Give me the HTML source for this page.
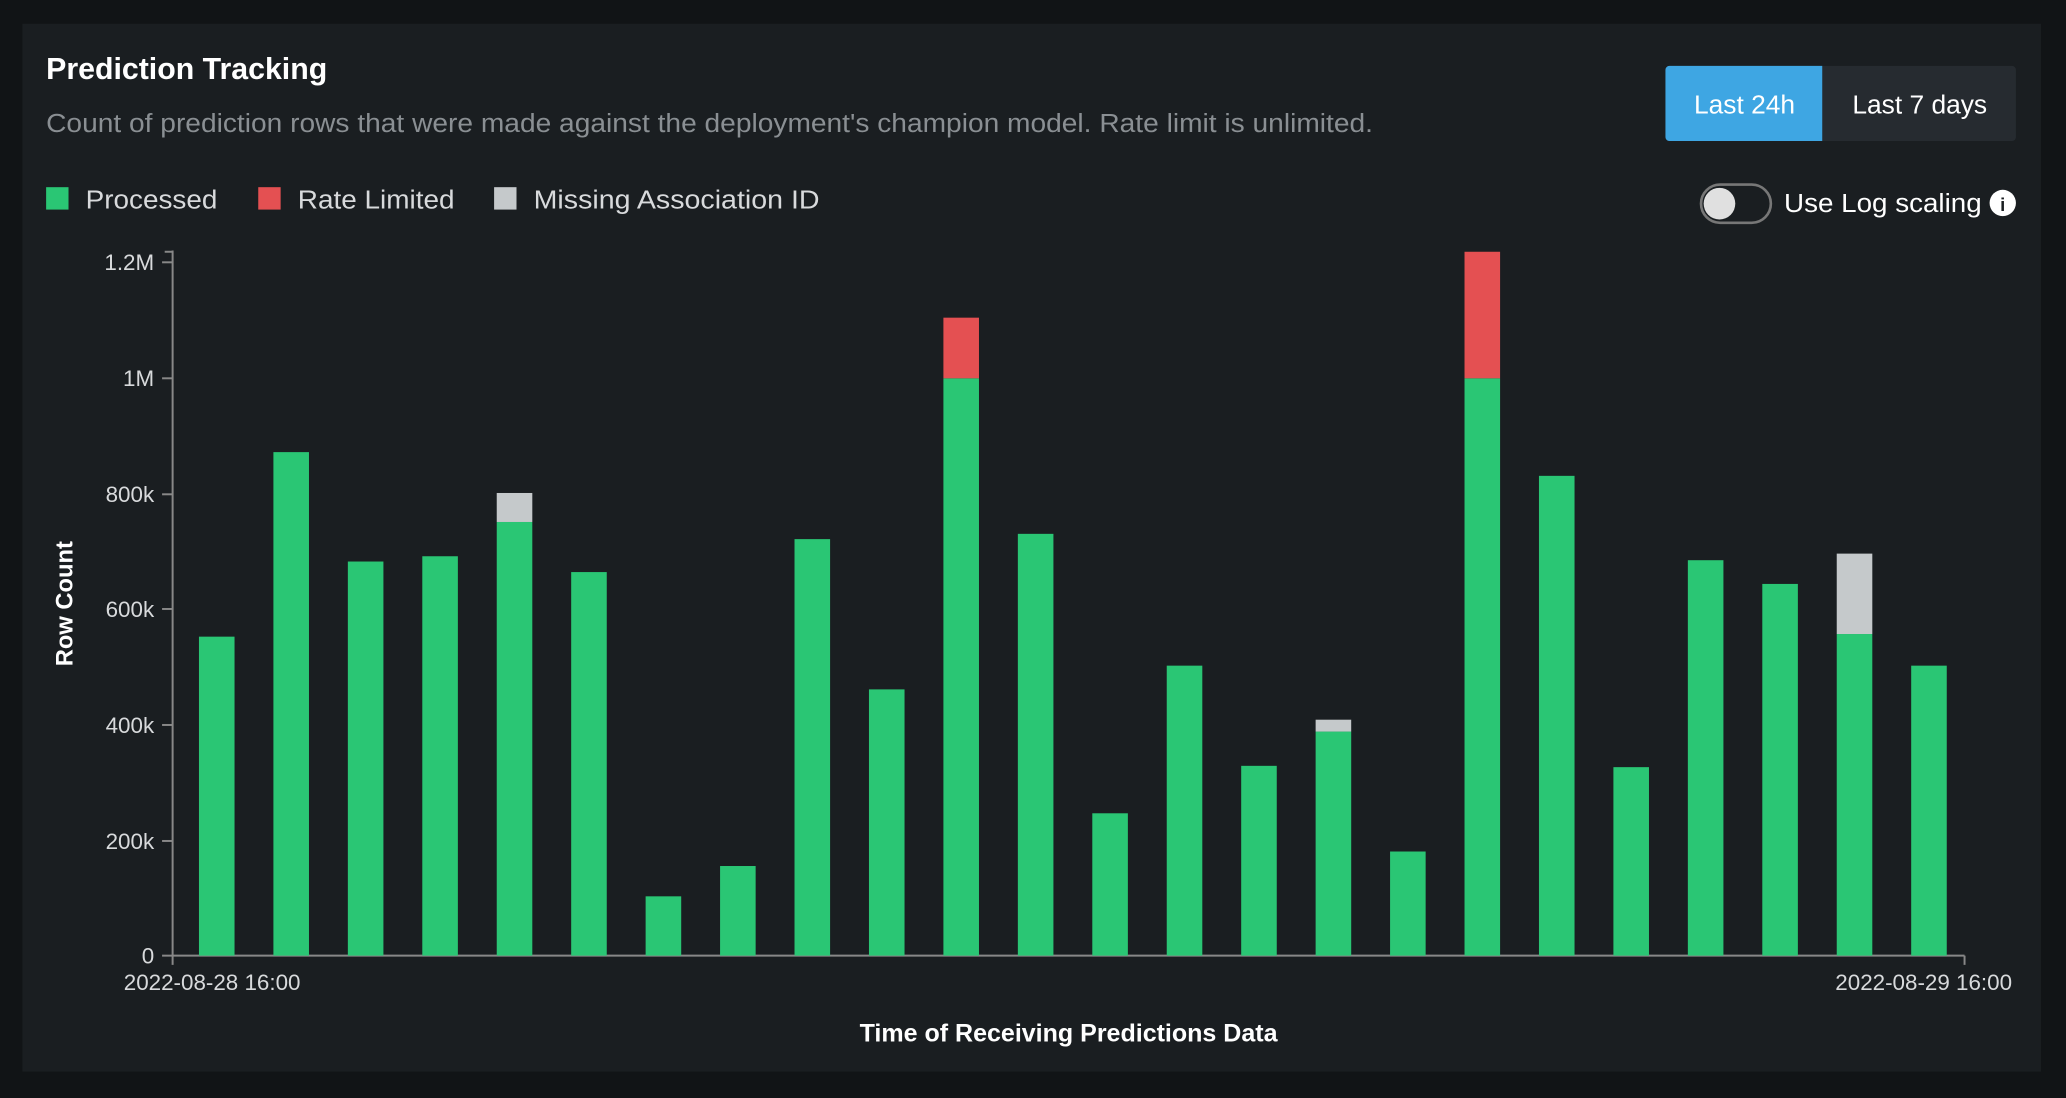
<!DOCTYPE html>
<html><head><meta charset="utf-8"><style>
html,body{margin:0;padding:0;background:#111416;width:2066px;height:1098px;overflow:hidden}
svg{display:block}
text{font-family:"Liberation Sans",sans-serif}
</style></head><body>
<svg width="2066" height="1098" viewBox="0 0 1568 833" preserveAspectRatio="none" xmlns="http://www.w3.org/2000/svg">
<rect x="0" y="0" width="1568" height="833" fill="#111416"/>
<rect x="17" y="18" width="1532" height="795" fill="#1a1e21"/>
<text x="35" y="60" font-size="23" font-weight="bold" fill="#ffffff">Prediction Tracking</text>
<text x="35" y="100" font-size="20" fill="#8a8f93" textLength="1007" lengthAdjust="spacingAndGlyphs">Count of prediction rows that were made against the deployment's champion model. Rate limit is unlimited.</text>
<rect x="1264" y="50" width="266" height="57" rx="3" fill="#262b30"/>
<path d="M1267 50 H1383 V107 H1267 a3 3 0 0 1 -3 -3 V53 a3 3 0 0 1 3 -3z" fill="#3ea6e3"/>
<text x="1324" y="86" font-size="20" fill="#fff" text-anchor="middle">Last 24h</text>
<text x="1457" y="86" font-size="20" fill="#fff" text-anchor="middle">Last 7 days</text>
<rect x="35" y="142" width="17" height="17" fill="#2ac674"/>
<text x="65" y="158" font-size="20" fill="#d8dadc" textLength="100" lengthAdjust="spacingAndGlyphs">Processed</text>
<rect x="196" y="142" width="17" height="17" fill="#e45052"/>
<text x="226" y="158" font-size="20" fill="#d8dadc" textLength="119" lengthAdjust="spacingAndGlyphs">Rate Limited</text>
<rect x="375" y="142" width="17" height="17" fill="#c5c9cb"/>
<text x="405" y="158" font-size="20" fill="#d8dadc" textLength="217" lengthAdjust="spacingAndGlyphs">Missing Association ID</text>
<rect x="1291" y="140" width="53" height="29" rx="14.5" fill="none" stroke="#777" stroke-width="2"/>
<circle cx="1305" cy="154.5" r="12" fill="#e0e0e0"/>
<text x="1354" y="161" font-size="20" fill="#fff" textLength="150" lengthAdjust="spacingAndGlyphs">Use Log scaling</text>
<circle cx="1520" cy="154" r="10" fill="#fff"/>
<text x="1520" y="160" font-size="14" font-weight="bold" fill="#1a1e21" text-anchor="middle">i</text>
<g font-size="17" fill="#d8dadc" text-anchor="end">
<text x="117" y="205">1.2M</text><text x="117" y="293">1M</text><text x="117" y="381">800k</text>
<text x="117" y="468">600k</text><text x="117" y="556">400k</text><text x="117" y="644">200k</text><text x="117" y="731">0</text>
</g>
<g stroke="#888" stroke-width="1.5">
<line x1="131" y1="190" x2="131" y2="732"/>
<line x1="131" y1="725" x2="1491" y2="725"/>
<line x1="1491" y1="725" x2="1491" y2="732"/>
<line x1="125" y1="191" x2="131" y2="191"/>
<line x1="123" y1="199" x2="131" y2="199"/><line x1="123" y1="287" x2="131" y2="287"/><line x1="123" y1="375" x2="131" y2="375"/>
<line x1="123" y1="462" x2="131" y2="462"/><line x1="123" y1="550" x2="131" y2="550"/><line x1="123" y1="638" x2="131" y2="638"/><line x1="123" y1="725" x2="131" y2="725"/>
</g>
<g fill="#2ac674">
<rect x="151" y="483" width="27" height="242"/>
<rect x="207.5" y="343" width="27" height="382"/>
<rect x="264" y="426" width="27" height="299"/>
<rect x="320.5" y="422" width="27" height="303"/>
<rect x="377" y="396" width="27" height="329"/>
<rect x="433.5" y="434" width="27" height="291"/>
<rect x="490" y="680" width="27" height="45"/>
<rect x="546.5" y="657" width="27" height="68"/>
<rect x="603" y="409" width="27" height="316"/>
<rect x="659.5" y="523" width="27" height="202"/>
<rect x="716" y="287" width="27" height="438"/>
<rect x="772.5" y="405" width="27" height="320"/>
<rect x="829" y="617" width="27" height="108"/>
<rect x="885.5" y="505" width="27" height="220"/>
<rect x="942" y="581" width="27" height="144"/>
<rect x="998.5" y="555" width="27" height="170"/>
<rect x="1055" y="646" width="27" height="79"/>
<rect x="1111.5" y="287" width="27" height="438"/>
<rect x="1168" y="361" width="27" height="364"/>
<rect x="1224.5" y="582" width="27" height="143"/>
<rect x="1281" y="425" width="27" height="300"/>
<rect x="1337.5" y="443" width="27" height="282"/>
<rect x="1394" y="481" width="27" height="244"/>
<rect x="1450.5" y="505" width="27" height="220"/>
</g>
<g fill="#c5c9cb">
<rect x="377" y="374" width="27" height="22"/>
<rect x="998.5" y="546" width="27" height="9"/>
<rect x="1394" y="420" width="27" height="61"/>
</g>
<g fill="#e45052">
<rect x="716" y="241" width="27" height="46"/>
<rect x="1111.5" y="191" width="27" height="96"/>
</g>
<text x="161" y="751" font-size="17" fill="#d8dadc" text-anchor="middle">2022-08-28 16:00</text>
<text x="1460" y="751" font-size="17" fill="#d8dadc" text-anchor="middle">2022-08-29 16:00</text>
<text x="811" y="790" font-size="19" font-weight="bold" fill="#fff" text-anchor="middle">Time of Receiving Predictions Data</text>
<text transform="translate(55,458) rotate(-90)" font-size="18" font-weight="bold" fill="#fff" text-anchor="middle">Row Count</text>
</svg>
</body></html>
